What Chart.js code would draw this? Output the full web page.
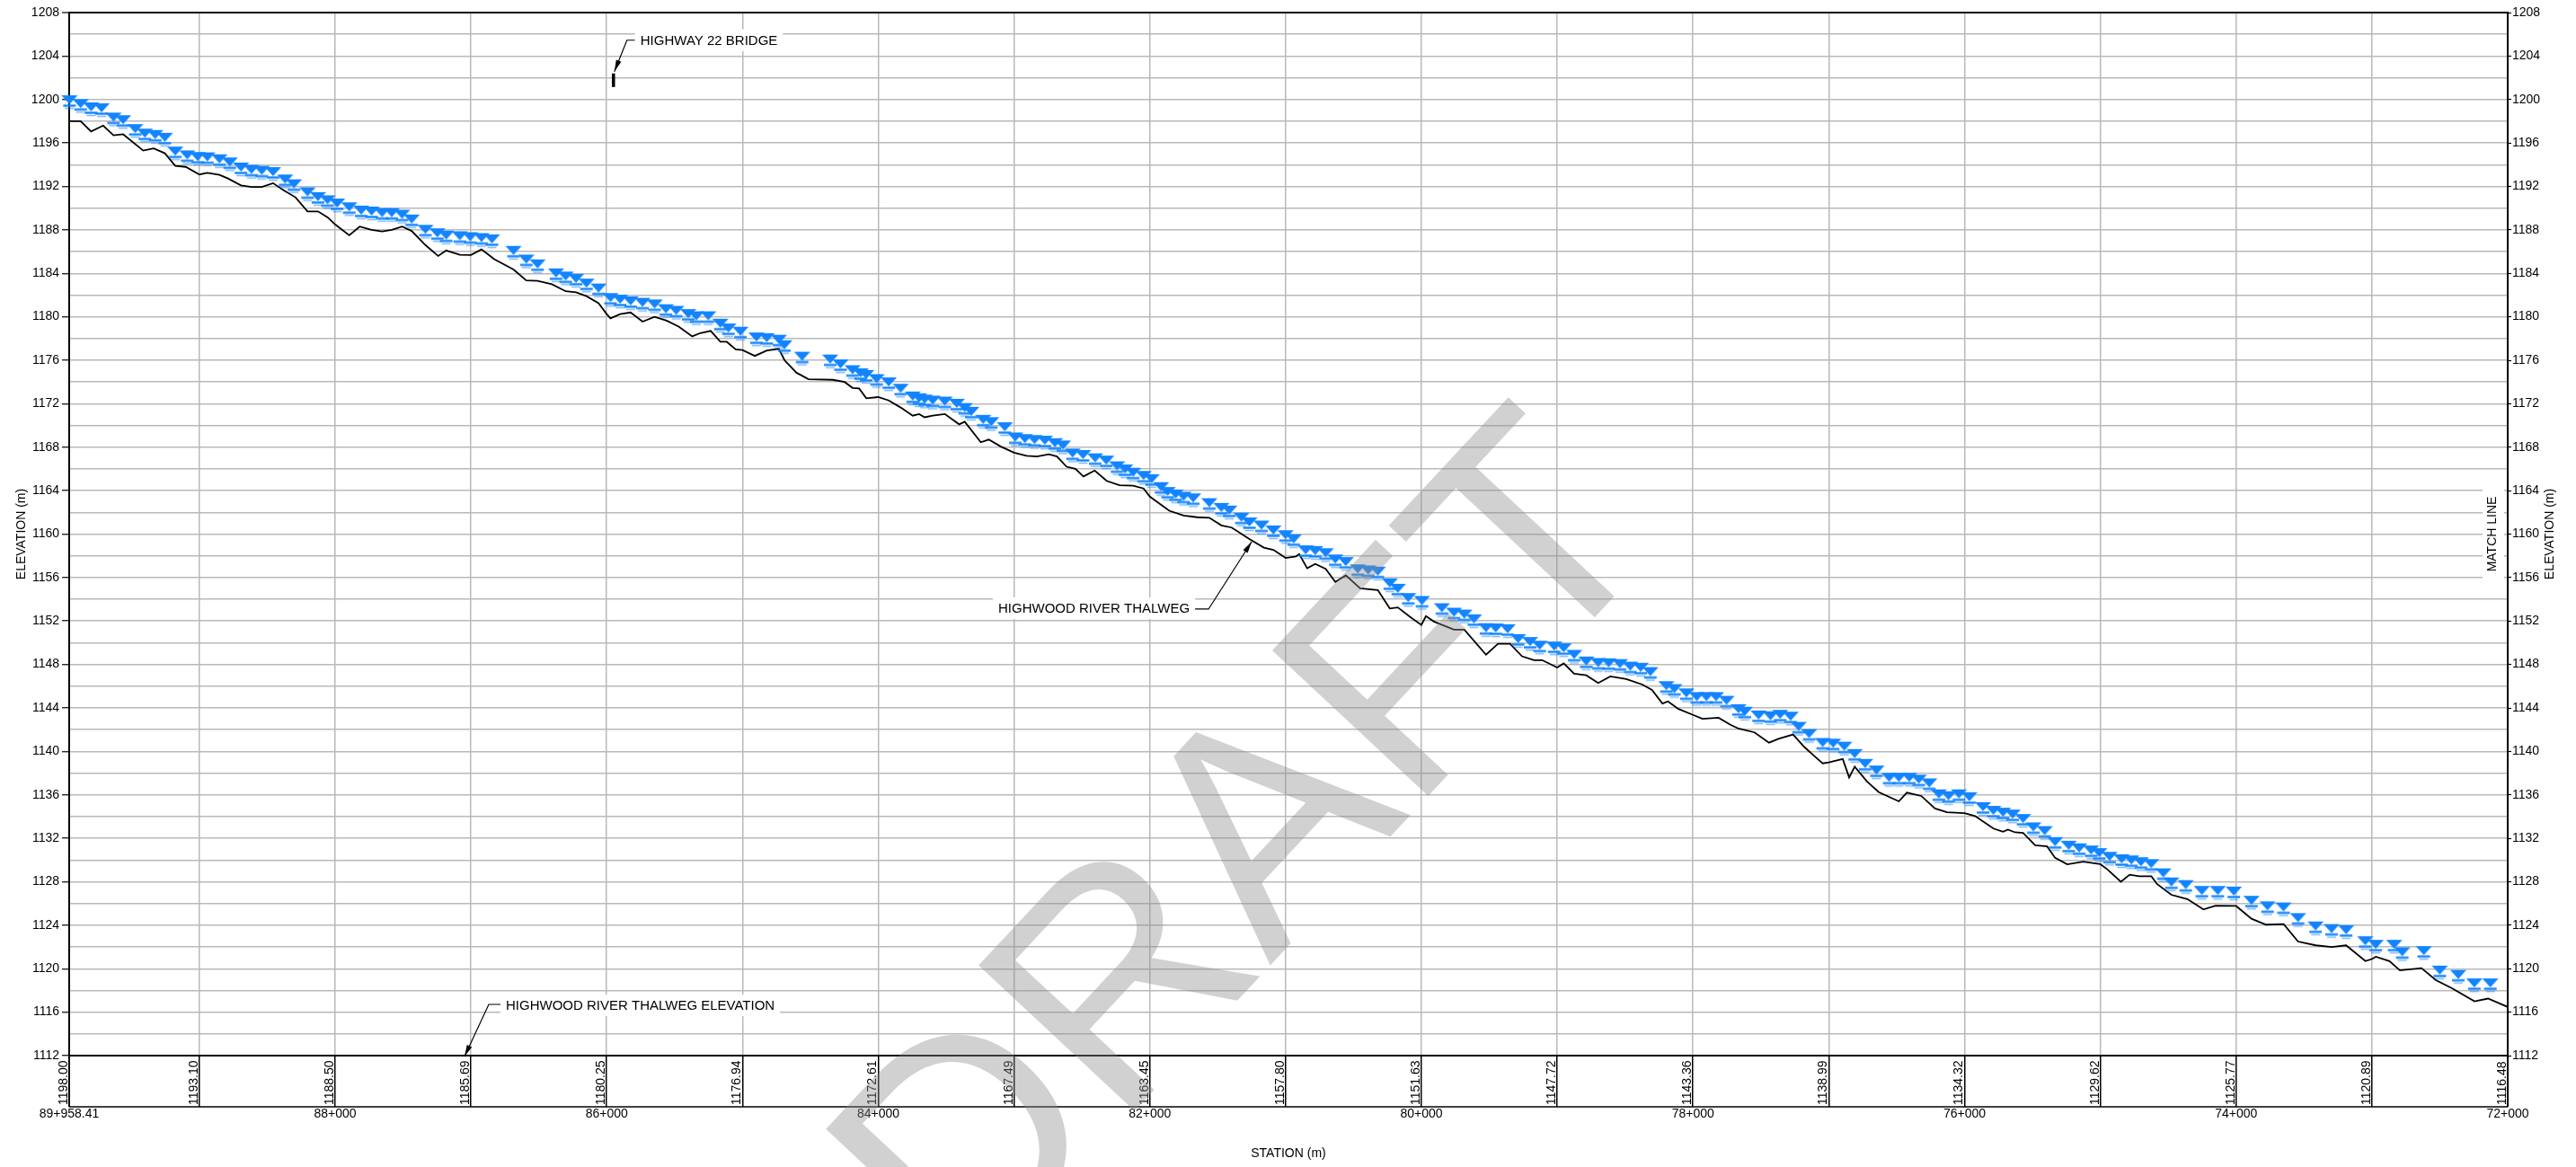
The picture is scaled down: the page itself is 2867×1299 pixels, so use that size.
<!DOCTYPE html>
<html>
<head>
<meta charset="utf-8">
<script src="https://cdn.jsdelivr.net/npm/chart.js@4.4.1/dist/chart.umd.min.js"></script>
<style>
    html, body { margin: 0; padding: 0; background: #fff; }
    #wrap { width: 2867px; height: 1299px; }
</style>
</head>
<body>
<div id="wrap"><canvas id="myChart" width="2867" height="1299"></canvas></div>
<script>
// station (m) and elevation (m) of the river thalweg
const thalwegStation = [89958.41, 89874, 89797, 89708, 89632, 89561, 89413, 89336, 89254, 89177, 89100, 89000,
    88941, 88852, 88793, 88693, 88616, 88540, 88457, 88380, 88292, 88203, 88126, 88055, 88000,
    87896, 87819, 87731, 87654, 87583, 87506, 87436, 87335, 87241, 87182, 87081, 87000,
    86922, 86828, 86686, 86592, 86509, 86403, 86302, 86225, 86149, 86060, 86000, 85972,
    85901, 85824, 85736, 85647, 85559, 85470, 85370, 85311, 85234, 85163, 85116, 85050, 85000,
    84909, 84820, 84732, 84690, 84602, 84514, 84336, 84248, 84189, 84141, 84088, 84000,
    83923, 83835, 83746, 83699, 83658, 83599, 83510, 83404, 83363, 83245, 83186, 83097, 83000,
    82908, 82831, 82743, 82684, 82613, 82548, 82489, 82406, 82318, 82224, 82123, 82046, 82000,
    81857, 81751, 81650, 81562, 81473, 81397, 81267, 81160, 81090, 81000,
    80923, 80900, 80841, 80782, 80705, 80634, 80557, 80451, 80321, 80233, 80174, 80085, 80000,
    79967, 79908, 79760, 79684, 79524, 79436, 79347, 79259, 79170, 79111, 79000,
    78952, 78875, 78786, 78698, 78609, 78491, 78373, 78302, 78225, 78184, 78107, 78000,
    77930, 77812, 77724, 77665, 77547, 77440, 77370, 77263, 77180, 77104, 77045, 77000,
    76897, 76850, 76809, 76720, 76632, 76484, 76425, 76319, 76218, 76130, 76000,
    75923, 75787, 75717, 75681, 75628, 75569, 75480, 75392, 75333, 75244, 75126, 75000,
    74949, 74849, 74784, 74713, 74624, 74583, 74477, 74359, 74241, 74152, 74000,
    73887, 73780, 73650, 73544, 73414, 73296, 73190, 73048, 73000, 72971,
    72871, 72794, 72635, 72529, 72411, 72245, 72145, 72000];
const thalwegElev = [1198.0, 1198.0, 1197.05, 1197.6, 1196.7, 1196.8, 1195.3, 1195.5, 1195.05, 1193.9, 1193.8, 1193.1,
    1193.25, 1193.07, 1192.75, 1192.1, 1191.95, 1191.95, 1192.3, 1191.65, 1191.0, 1189.7, 1189.7, 1189.15, 1188.5,
    1187.5, 1188.3, 1188.0, 1187.85, 1188.0, 1188.3, 1187.9, 1186.6, 1185.6, 1186.1, 1185.7, 1185.69,
    1186.2, 1185.3, 1184.35, 1183.35, 1183.3, 1183.0, 1182.35, 1182.25, 1181.9, 1181.25, 1180.25, 1179.85,
    1180.25, 1180.4, 1179.55, 1180.0, 1179.65, 1179.1, 1178.2, 1178.5, 1178.7, 1177.7, 1177.7, 1177.0, 1176.94,
    1176.4, 1176.9, 1177.05, 1176.0, 1174.85, 1174.25, 1174.2, 1174.0, 1173.45, 1173.4, 1172.5, 1172.61,
    1172.3, 1171.65, 1170.9, 1171.05, 1170.75, 1170.9, 1171.05, 1170.1, 1170.35, 1168.45, 1168.7, 1168.05, 1167.49,
    1167.2, 1167.15, 1167.35, 1167.15, 1166.2, 1166.0, 1165.3, 1165.85, 1164.9, 1164.5, 1164.45, 1164.2, 1163.45,
    1162.15, 1161.7, 1161.55, 1161.5, 1160.8, 1160.6, 1159.55, 1158.75, 1158.55, 1157.8,
    1157.95, 1158.15, 1156.85, 1157.25, 1156.8, 1155.6, 1156.2, 1155.0, 1154.85, 1153.15, 1153.25, 1152.4, 1151.63,
    1152.45, 1151.95, 1151.2, 1151.2, 1148.9, 1149.9, 1149.9, 1148.75, 1148.4, 1148.4, 1147.72,
    1148.1, 1147.15, 1147.0, 1146.3, 1146.9, 1146.65, 1146.15, 1145.65, 1144.4, 1144.6, 1143.9, 1143.36,
    1143.0, 1143.1, 1142.45, 1142.1, 1141.75, 1140.8, 1141.15, 1141.55, 1140.4, 1139.55, 1138.9, 1138.99,
    1139.3, 1137.6, 1138.6, 1137.25, 1136.25, 1135.4, 1136.2, 1135.9, 1134.75, 1134.4, 1134.32,
    1134.05, 1132.9, 1132.6, 1132.8, 1132.55, 1132.5, 1131.35, 1131.25, 1130.2, 1129.6, 1129.85, 1129.62,
    1129.15, 1128.0, 1128.65, 1128.5, 1128.5, 1127.8, 1126.8, 1126.4, 1125.45, 1125.8, 1125.77,
    1124.6, 1124.05, 1124.1, 1122.5, 1122.15, 1122.0, 1122.15, 1120.7, 1120.89, 1121.1,
    1120.7, 1119.85, 1120.05, 1118.95, 1118.2, 1117.0, 1117.25, 1116.48];

// water surface symbols (station, elevation)
const waterStation = [89956, 89874, 89797, 89720, 89632, 89561, 89472, 89401, 89325, 89254, 89177, 89089, 89012,
    88941, 88852, 88776, 88693, 88616, 88540, 88457, 88368, 88303, 88203, 88126, 88056, 87985,
    87896, 87808, 87731, 87654, 87583, 87507, 87436, 87335, 87247, 87182, 87082, 87005,
    86922, 86845, 86686, 86592, 86509, 86373, 86302, 86226, 86149, 86060, 85972,
    85901, 85824, 85736, 85647, 85564, 85488, 85399, 85340, 85252, 85163, 85104, 85015,
    84897, 84821, 84732, 84691, 84561, 84354, 84278, 84189, 84130, 84089, 84012,
    83923, 83835, 83746, 83699, 83658, 83599, 83510, 83422, 83363, 83315, 83227, 83168, 83068, 82991,
    82920, 82849, 82773, 82699, 82640, 82569, 82492, 82403, 82321, 82241, 82182, 82123, 82046, 81987,
    81917, 81869, 81810, 81751, 81681, 81562, 81473, 81415, 81326, 81267, 81178, 81090, 81001,
    80941, 80852, 80782, 80705, 80634, 80557, 80469, 80392, 80321, 80233, 80174, 80097, 79996,
    79849, 79760, 79684, 79613, 79524, 79453, 79365, 79288, 79200, 79129, 79022,
    78952, 78875, 78786, 78698, 78621, 78538, 78462, 78385, 78314, 78196, 78137, 78049,
    77972, 77901, 77830, 77753, 77665, 77618, 77517, 77429, 77358, 77281, 77222, 77145, 77045,
    76968, 76886, 76809, 76732, 76649, 76555, 76484, 76407, 76337, 76260, 76189, 76118, 76041,
    75965, 75864, 75788, 75717, 75646, 75569, 75493, 75410, 75333, 75233, 75156, 75068, 75008,
    74932, 74843, 74772, 74701, 74625, 74536, 74477, 74371, 74253, 74135, 74017,
    73887, 73769, 73651, 73544, 73415, 73297, 73190, 73049, 72972, 72836, 72777, 72618,
    72500, 72364, 72246, 72128];
const waterElev = [1199.97, 1199.62, 1199.32, 1199.23, 1198.38, 1198.14, 1197.32, 1196.9, 1196.78, 1196.52, 1195.25, 1194.9, 1194.75,
    1194.72, 1194.54, 1194.25, 1193.78, 1193.57, 1193.48, 1193.36, 1192.68, 1192.24, 1191.5, 1191.06, 1190.77, 1190.47,
    1190.12, 1189.82, 1189.73, 1189.59, 1189.59, 1189.44, 1189.0, 1188.05, 1187.73, 1187.52, 1187.46, 1187.37,
    1187.29, 1187.17, 1186.11, 1185.31, 1184.87, 1184.04, 1183.75, 1183.54, 1183.1, 1182.65, 1181.77,
    1181.62, 1181.47, 1181.33, 1181.18, 1180.74, 1180.59, 1180.29, 1180.09, 1180.09, 1179.41, 1178.97, 1178.67,
    1178.14, 1178.08, 1177.93, 1177.43, 1176.37, 1176.11, 1175.66, 1175.13, 1174.84, 1174.69, 1174.31,
    1174.01, 1173.42, 1172.71, 1172.54, 1172.42, 1172.33, 1172.24, 1172.04, 1171.65, 1171.3, 1170.56, 1170.35, 1169.88, 1168.94,
    1168.79, 1168.7, 1168.64, 1168.41, 1168.2, 1167.46, 1167.32, 1167.02, 1166.81, 1166.28, 1165.99, 1165.69, 1165.4, 1165.1,
    1164.37, 1163.92, 1163.69, 1163.48, 1163.33, 1162.89, 1162.45, 1162.21, 1161.56, 1161.12, 1160.83, 1160.38, 1159.94,
    1159.57, 1158.55, 1158.49, 1158.28, 1157.71, 1157.47, 1156.8, 1156.7, 1156.59, 1155.51, 1155.01, 1154.16, 1153.89,
    1153.22, 1152.81, 1152.64, 1152.2, 1151.39, 1151.36, 1151.29, 1150.38, 1150.11, 1149.77, 1149.7,
    1149.53, 1148.93, 1148.32, 1148.18, 1148.15, 1148.08, 1147.84, 1147.74, 1147.34, 1146.05, 1145.78, 1145.38,
    1145.04, 1145.04, 1145.04, 1144.7, 1143.93, 1143.69, 1143.35, 1143.28, 1143.41, 1143.24, 1142.3, 1141.64, 1140.82,
    1140.75, 1140.48, 1139.8, 1138.89, 1138.28, 1137.61, 1137.61, 1137.61, 1137.44, 1137.1, 1136.09, 1135.92, 1136.09,
    1135.82, 1134.91, 1134.57, 1134.4, 1134.23, 1133.82, 1133.05, 1132.71, 1131.7, 1131.36, 1131.12, 1130.92, 1130.68,
    1130.34, 1130.11, 1130.01, 1129.84, 1129.67, 1128.82, 1127.98, 1127.74, 1127.2, 1127.2, 1127.14,
    1126.29, 1125.78, 1125.68, 1124.7, 1123.93, 1123.69, 1123.59, 1122.57, 1122.24, 1122.24, 1121.56, 1121.66,
    1119.87, 1119.47, 1118.69, 1118.69];

// km stations with the thalweg elevation written in the band under the profile
const stationTicks = [89958.41, 89000, 88000, 87000, 86000, 85000, 84000, 83000, 82000, 81000,
    80000, 79000, 78000, 77000, 76000, 75000, 74000, 73000, 72000];
const stationElevLabels = ['1198.00', '1193.10', '1188.50', '1185.69', '1180.25', '1176.94', '1172.61', '1167.49', '1163.45', '1157.80',
    '1151.63', '1147.72', '1143.36', '1138.99', '1134.32', '1129.62', '1125.77', '1120.89', '1116.48'];

const STATION_START = 89958.41;
const STATION_END = 72000;
const ELEV_MIN = 1112;
const ELEV_MAX = 1208;
const BAND_HEIGHT = 57;

const WATER_BLUE = 'rgb(18,132,255)';
const GRID_GREY = '#b9b9b9';
const FONT = 'Liberation Sans, Arial, sans-serif';

Chart.defaults.font.family = FONT;
Chart.defaults.color = '#000';

function fmtStation(v) {
    let km = Math.floor(v / 1000);
    let m = v - km * 1000;
    let mStr = Math.abs(m - Math.round(m)) < 1e-6 ? String(Math.round(m)).padStart(3, '0') : m.toFixed(2).padStart(6, '0');
    return km + '+' + mStr;
}

function makeWaterSymbol() {
    let c = document.createElement('canvas');
    c.width = 20;
    c.height = 30;
    let g = c.getContext('2d');
    g.fillStyle = WATER_BLUE;
    g.beginPath();
    g.moveTo(1, 10);
    g.lineTo(19, 10);
    g.lineTo(10, 20);
    g.closePath();
    g.fill();
    g.strokeStyle = WATER_BLUE;
    g.lineWidth = 2.4;
    g.beginPath();
    g.moveTo(3, 21.5);
    g.lineTo(17, 21.5);
    g.stroke();
    g.globalAlpha = 0.55;
    g.lineWidth = 1.6;
    g.beginPath();
    g.moveTo(5, 24.5);
    g.lineTo(15, 24.5);
    g.stroke();
    return c;
}

function arrowHead(ctx, fx, fy, tx, ty) {
    let a = Math.atan2(ty - fy, tx - fx);
    let len = 13, hw = 3;
    ctx.beginPath();
    ctx.moveTo(tx, ty);
    ctx.lineTo(tx - len * Math.cos(a) + hw * Math.sin(a), ty - len * Math.sin(a) - hw * Math.cos(a));
    ctx.lineTo(tx - len * Math.cos(a) - hw * Math.sin(a), ty - len * Math.sin(a) + hw * Math.cos(a));
    ctx.closePath();
    ctx.fill();
}

function maskedText(ctx, text, x, y, align) {
    ctx.font = '15px ' + FONT;
    let w = ctx.measureText(text).width;
    let left = align === 'right' ? x - w : x;
    ctx.fillStyle = '#fff';
    ctx.fillRect(left - 6, y - 13, w + 12, 24);
    ctx.fillStyle = '#000';
    ctx.textAlign = align;
    ctx.textBaseline = 'middle';
    ctx.fillText(text, x, y);
}

function leader(ctx, pts) {
    ctx.beginPath();
    ctx.moveTo(pts[0][0], pts[0][1]);
    for (let i = 1; i < pts.length; i++) ctx.lineTo(pts[i][0], pts[i][1]);
    ctx.stroke();
    arrowHead(ctx, pts[1][0], pts[1][1], pts[0][0], pts[0][1]);
}

const profileExtras = {
    id: 'profileExtras',
    afterDatasetsDraw(chart) {
        let ctx = chart.ctx;
        let xs = chart.scales.x;
        let ys = chart.scales.y;
        ctx.save();
        ctx.strokeStyle = '#000';
        ctx.fillStyle = '#000';
        ctx.lineWidth = 1.2;

        // Highway 22 bridge
        let bx = xs.getPixelForValue(85950);
        let byTop = ys.getPixelForValue(1202.4);
        let byBot = ys.getPixelForValue(1201.15);
        ctx.lineWidth = 3.5;
        ctx.beginPath();
        ctx.moveTo(bx, byTop);
        ctx.lineTo(bx, byBot);
        ctx.stroke();
        ctx.lineWidth = 1.2;
        leader(ctx, [[bx + 1, byTop - 2], [bx + 15, byTop - 37], [bx + 24, byTop - 37]]);
        maskedText(ctx, 'HIGHWAY 22 BRIDGE', bx + 30, byTop - 36, 'left');

        // thalweg label
        let tx = xs.getPixelForValue(81250);
        let ty = ys.getPixelForValue(1159.3);
        ctx.fillStyle = '#000';
        leader(ctx, [[tx, ty], [tx - 48, ty + 75], [tx - 64, ty + 75]]);
        maskedText(ctx, 'HIGHWOOD RIVER THALWEG', tx - 69, ty + 75, 'right');

        // thalweg elevation band label
        let ex = xs.getPixelForValue(87047);
        let ey = ys.getPixelForValue(ELEV_MIN);
        ctx.fillStyle = '#000';
        leader(ctx, [[ex, ey + 1], [ex + 27, ey - 57], [ex + 42, ey - 57]]);
        maskedText(ctx, 'HIGHWOOD RIVER THALWEG ELEVATION', ex + 46, ey - 55, 'left');

        // match line
        let area = chart.chartArea;
        let midY = (area.top + area.bottom) / 2;
        ctx.fillStyle = '#fff';
        ctx.fillRect(area.right - 28, midY - 50, 24, 102);
        ctx.fillStyle = '#000';
        ctx.font = '14px ' + FONT;
        ctx.save();
        ctx.translate(area.right - 17, midY);
        ctx.rotate(-Math.PI / 2);
        ctx.textAlign = 'center';
        ctx.textBaseline = 'middle';
        ctx.fillText('MATCH LINE', 0, 0);
        ctx.restore();
        ctx.restore();
    },
    afterDraw(chart) {
        let ctx = chart.ctx;
        let xs = chart.scales.x;
        let area = chart.chartArea;
        let bandBottom = area.bottom + BAND_HEIGHT;
        ctx.save();

        // closing line of the elevation band, and its two ends
        ctx.strokeStyle = '#000';
        ctx.lineWidth = 1.5;
        ctx.beginPath();
        ctx.moveTo(area.left, bandBottom);
        ctx.lineTo(area.right, bandBottom);
        ctx.stroke();
        ctx.lineWidth = 2;
        ctx.beginPath();
        ctx.moveTo(area.left, area.bottom);
        ctx.lineTo(area.left, bandBottom);
        ctx.moveTo(area.right, area.bottom);
        ctx.lineTo(area.right, bandBottom);
        ctx.stroke();

        ctx.fillStyle = '#000';
        ctx.font = '14px ' + FONT;
        ctx.textAlign = 'left';
        ctx.textBaseline = 'alphabetic';
        stationTicks.forEach((v, i) => {
            let px = xs.getPixelForValue(v);
            ctx.save();
            ctx.translate(px - 2, bandBottom - 2);
            ctx.rotate(-Math.PI / 2);
            ctx.fillText(stationElevLabels[i], 0, 0);
            ctx.restore();
        });

        // right axis title reads bottom to top like the left one
        ctx.save();
        ctx.translate(2838, (area.top + area.bottom) / 2);
        ctx.rotate(-Math.PI / 2);
        ctx.textAlign = 'center';
        ctx.textBaseline = 'middle';
        ctx.fillText('ELEVATION (m)', 0, 0);
        ctx.restore();

        // DRAFT watermark
        ctx.save();
        ctx.translate(1396, 954);
        ctx.rotate(-47 * Math.PI / 180);
        ctx.font = '345px ' + FONT;
        ctx.fillStyle = 'rgba(140,140,140,0.4)';
        ctx.textAlign = 'center';
        ctx.textBaseline = 'middle';
        ctx.fillText('DRAFT', 0, 0);
        ctx.restore();

        ctx.restore();
    }
};

const thalwegData = thalwegStation.map((s, i) => ({x: s, y: thalwegElev[i]}));
const waterData = waterStation.map((s, i) => ({x: s, y: waterElev[i]}));
const tickMark = (c) => (c.tick && Math.round(c.tick.value) % 4 === 0) ? '#000' : 'rgba(0,0,0,0)';

let ctx = document.getElementById('myChart').getContext('2d');
new Chart(ctx, {
    type: 'line',
    data: {
        datasets: [
            {
                label: 'Water surface',
                data: waterData,
                showLine: false,
                pointStyle: makeWaterSymbol(),
                pointRadius: 1,
                pointHoverRadius: 0,
                pointBorderWidth: 0,
                borderWidth: 0,
                clip: false
            },
            {
                label: 'Highwood River thalweg',
                data: thalwegData,
                borderColor: '#000',
                borderWidth: 1.8,
                pointRadius: 0,
                pointHoverRadius: 0,
                tension: 0,
                fill: false
            }
        ]
    },
    options: {
        responsive: false,
        animation: false,
        devicePixelRatio: 1,
        layout: { padding: { top: 14, left: 0, right: 0, bottom: 0 } },
        plugins: {
            legend: { display: false },
            tooltip: { enabled: false }
        },
        scales: {
            x: {
                type: 'linear',
                reverse: true,
                min: STATION_END,
                max: STATION_START,
                afterBuildTicks: (scale) => { scale.ticks = stationTicks.map(v => ({ value: v })); },
                afterFit: (scale) => { scale.height = 124; },
                ticks: {
                    autoSkip: false,
                    maxRotation: 0,
                    padding: 0,
                    font: { size: 14 },
                    callback: (v) => (v === STATION_START || v % 2000 === 0) ? fmtStation(v) : ''
                },
                // the tick marks are the km dividers of the elevation band
                grid: { color: GRID_GREY, lineWidth: 1.5, drawTicks: true, tickLength: BAND_HEIGHT, tickColor: '#000', tickWidth: 1.5 },
                border: { color: '#000', width: 2 },
                title: { display: true, text: 'STATION (m)', font: { size: 14 }, padding: { top: 0, bottom: 6 } }
            },
            y: {
                position: 'left',
                min: ELEV_MIN,
                max: ELEV_MAX,
                afterFit: (scale) => { scale.width = 77; },
                ticks: {
                    stepSize: 2,
                    padding: 3,
                    font: { size: 14 },
                    callback: (v) => v % 4 === 0 ? String(v) : ''
                },
                grid: {
                    color: (c) => (c.tick && c.tick.value === ELEV_MAX) ? '#000' : GRID_GREY,
                    lineWidth: (c) => (c.tick && c.tick.value === ELEV_MAX) ? 2 : 1.5,
                    tickLength: 8,
                    tickColor: tickMark,
                    tickWidth: 1.2
                },
                border: { color: '#000', width: 2 },
                title: { display: true, text: 'ELEVATION (m)', font: { size: 14 }, padding: { top: 16, bottom: 0 } }
            },
            yRight: {
                position: 'right',
                min: ELEV_MIN,
                max: ELEV_MAX,
                afterFit: (scale) => { scale.width = 76; },
                ticks: {
                    stepSize: 2,
                    padding: 1,
                    font: { size: 14 },
                    callback: (v) => v % 4 === 0 ? String(v) : ''
                },
                grid: { drawOnChartArea: false, tickLength: 4, tickColor: tickMark, tickWidth: 1.2 },
                border: { color: '#000', width: 2 }
            }
        }
    },
    plugins: [profileExtras]
});
</script>
</body>
</html>
